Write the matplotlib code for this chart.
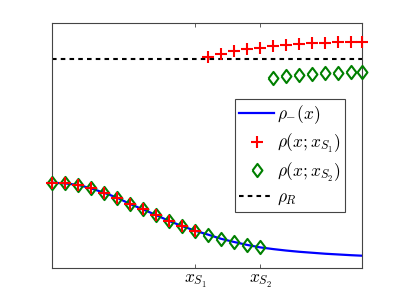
import numpy as np
import matplotlib
matplotlib.use('Agg')
import matplotlib.pyplot as plt

plt.rcParams['mathtext.fontset'] = 'cm'
plt.rcParams['font.family'] = 'DejaVu Serif'

## grid of x positions (axis runs 0..1)
xs = [0.000, 0.042, 0.084, 0.126, 0.168, 0.210, 0.252, 0.294, 0.336, 0.378,
      0.420, 0.462, 0.504, 0.546, 0.588, 0.630, 0.672, 0.714, 0.756, 0.798,
      0.840, 0.882, 0.924, 0.966, 1.000]

## rho_-(x), the smooth blue curve
rho_minus = [0.347, 0.344, 0.338, 0.324, 0.306, 0.286, 0.260, 0.238, 0.215, 0.191,
             0.170, 0.151, 0.135, 0.118, 0.105, 0.093, 0.083, 0.076, 0.070, 0.065,
             0.061, 0.057, 0.054, 0.051, 0.049]

## rho(x; x_S1): follows rho_- up to x_S1, then jumps above rho_R
rho_s1 = [0.347, 0.344, 0.338, 0.324, 0.306, 0.286, 0.260, 0.238, 0.215, 0.191,
          0.170, 0.151,
          0.861, 0.873, 0.883, 0.891, 0.898, 0.905, 0.910, 0.914, 0.917, 0.918,
          0.920, 0.921, 0.921]

## rho(x; x_S2): follows rho_- up to x_S2, then jumps below rho_R
rho_s2 = [0.347, 0.344, 0.338, 0.324, 0.306, 0.286, 0.260, 0.238, 0.215, 0.191,
          0.170, 0.151, 0.135, 0.118, 0.105, 0.093, 0.083,
          0.776, 0.782, 0.787, 0.791, 0.793, 0.796, 0.799, 0.798]

rho_R = 0.851
x_S1 = 0.462
x_S2 = 0.672
tick_labels = [r'$x_{S_1}$', r'$x_{S_2}$']

fig = plt.figure(figsize=(3.99, 3.02), dpi=100)
ax = fig.add_axes([0.130, 0.1136, 0.7765, 0.8113])

diamond = [(-0.75, 0), (0, 1), (0.75, 0), (0, -1), (-0.75, 0)]

ax.plot(xs, rho_minus, color='#0000ff', lw=1.6, label=r'$\rho_{-}(x)$', zorder=2)
ax.plot(xs, rho_s2, linestyle='none', marker=diamond, markersize=9.5,
        markerfacecolor='none', markeredgecolor='#008000', markeredgewidth=1.5,
        label=r'$\rho(x;x_{S_2})$', clip_on=False, zorder=3)
ax.plot(xs, rho_s1, linestyle='none', marker='+', markersize=8.5,
        color='#ff0000', markeredgewidth=1.5,
        label=r'$\rho(x;x_{S_1})$', clip_on=False, zorder=4)
ax.axhline(rho_R, color='black', lw=1.5, dashes=(2.2, 2.0), label=r'$\rho_R$', zorder=2)

ax.set_xlim(0, 1)
ax.set_ylim(0, 1)
ax.set_xticks([x_S1, x_S2])
ax.set_xticklabels(tick_labels, fontsize=12.5)
ax.set_yticks([])
ax.tick_params(axis='x', direction='in', length=3, top=True, width=0.6,
               color='#444444', pad=4)
for s in ax.spines.values():
    s.set_color('#444444')
    s.set_linewidth(0.8)

h, l = ax.get_legend_handles_labels()
order = [0, 2, 1, 3]
leg = ax.legend([h[i] for i in order], [l[i] for i in order],
                loc='upper right', bbox_to_anchor=(345/399, 1 - 99.3/302),
                bbox_transform=fig.transFigure, borderaxespad=0,
                fontsize=12.5, fancybox=False, framealpha=1,
                handlelength=2.0, handletextpad=0.15, borderpad=0.25,
                labelspacing=0.32)
leg.get_frame().set_edgecolor('#444444')
leg.get_frame().set_linewidth(0.8)

fig.savefig('out.png', dpi=100)
